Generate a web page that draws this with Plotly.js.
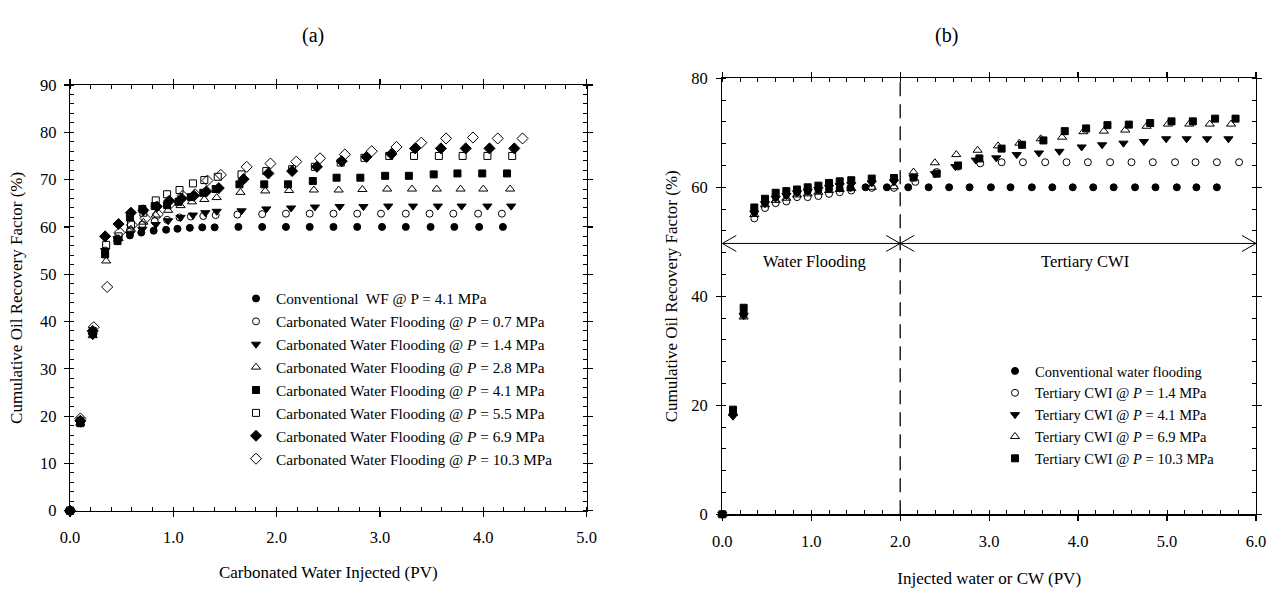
<!DOCTYPE html>
<html>
<head>
<meta charset="utf-8">
<script src="https://cdn.plot.ly/plotly-3.0.1.min.js"></script>
<style>
  html, body { margin: 0; padding: 0; background: #ffffff; }
  #chart { width: 1275px; height: 590px; }
</style>
</head>
<body>
<div id="chart"></div>
<script>
// ---------------- DATA : panel (a) ----------------
const panelATitle = '(a)';
const panelAXTitle = 'Carbonated Water Injected (PV)';
const panelAYTitle = 'Cumulative Oil Recovery Factor (%)';
const seriesANames = [
  'Conventional\u00a0 WF @ P = 4.1 MPa',
  'Carbonated Water Flooding @ <i>P</i> = 0.7 MPa',
  'Carbonated Water Flooding @ <i>P</i> = 1.4 MPa',
  'Carbonated Water Flooding @ <i>P</i> = 2.8 MPa',
  'Carbonated Water Flooding @ <i>P</i> = 4.1 MPa',
  'Carbonated Water Flooding @ <i>P</i> = 5.5 MPa',
  'Carbonated Water Flooding @ <i>P</i> = 6.9 MPa',
  'Carbonated Water Flooding @ <i>P</i> = 10.3 MPa'
];
const a_wf_x   = [0, 0.10, 0.22, 0.34, 0.46, 0.58, 0.69, 0.81, 0.93, 1.04, 1.16, 1.28, 1.40, 1.63, 1.86, 2.09, 2.32, 2.55, 2.78, 3.02, 3.25, 3.49, 3.72, 3.96, 4.19];
const a_wf_y   = [0, 18.5, 37.3, 54.5, 57.0, 58.2, 58.8, 59.2, 59.4, 59.6, 59.8, 59.9, 59.9, 60.0, 60.0, 60.0, 60.0, 60.0, 60.0, 60.0, 60.0, 60.0, 60.0, 60.0, 60.0];
const a_p07_x  = [0, 0.10, 0.22, 0.34, 0.46, 0.58, 0.70, 0.82, 0.94, 1.06, 1.17, 1.29, 1.41, 1.62, 1.86, 2.09, 2.32, 2.55, 2.78, 3.01, 3.25, 3.48, 3.71, 3.95, 4.18];
const a_p07_y  = [0, 19.0, 37.5, 55.0, 57.5, 59.3, 60.5, 61.2, 61.5, 62.0, 62.2, 62.3, 62.5, 62.6, 62.7, 62.8, 62.8, 62.8, 62.8, 62.8, 62.8, 62.8, 62.8, 62.8, 62.8];
const a_p14_x  = [0, 0.10, 0.22, 0.34, 0.46, 0.58, 0.70, 0.83, 0.95, 1.07, 1.19, 1.31, 1.42, 1.66, 1.90, 2.14, 2.37, 2.61, 2.84, 3.08, 3.32, 3.56, 3.79, 4.04, 4.27];
const a_p14_y  = [0, 18.5, 37.0, 55.0, 57.5, 58.5, 59.5, 60.5, 61.3, 62.0, 62.5, 63.0, 63.3, 63.4, 63.8, 64.0, 64.2, 64.3, 64.3, 64.4, 64.4, 64.4, 64.4, 64.4, 64.4];
const a_p28_x  = [0, 0.10, 0.22, 0.35, 0.47, 0.59, 0.71, 0.83, 0.95, 1.07, 1.18, 1.30, 1.42, 1.65, 1.89, 2.12, 2.36, 2.60, 2.83, 3.07, 3.31, 3.55, 3.78, 4.00, 4.26];
const a_p28_y  = [0, 18.5, 37.0, 52.8, 57.5, 59.5, 61.0, 62.5, 63.5, 64.5, 65.3, 65.8, 66.2, 67.3, 67.6, 67.7, 67.8, 67.8, 67.9, 68.0, 68.0, 68.0, 68.0, 68.0, 68.0];
const a_p41_x  = [0, 0.10, 0.22, 0.34, 0.46, 0.58, 0.70, 0.82, 0.94, 1.05, 1.17, 1.29, 1.41, 1.64, 1.88, 2.11, 2.35, 2.58, 2.81, 3.05, 3.28, 3.52, 3.75, 3.99, 4.23];
const a_p41_y  = [0, 18.5, 37.5, 54.2, 57.0, 62.0, 63.8, 64.4, 64.6, 65.3, 66.3, 67.2, 68.0, 69.0, 69.0, 69.0, 69.7, 70.4, 70.4, 70.8, 70.8, 71.1, 71.3, 71.3, 71.3];
const a_p55_x  = [0, 0.10, 0.22, 0.35, 0.47, 0.59, 0.71, 0.83, 0.94, 1.06, 1.19, 1.30, 1.43, 1.66, 1.90, 2.15, 2.37, 2.62, 2.85, 3.09, 3.33, 3.57, 3.80, 4.04, 4.28];
const a_p55_y  = [0, 19.0, 38.0, 56.2, 58.0, 60.5, 63.0, 65.6, 66.9, 67.8, 69.2, 69.9, 70.6, 71.1, 71.8, 72.2, 72.7, 73.6, 74.6, 75.0, 75.0, 75.0, 75.0, 75.0, 75.0];
const a_p69_x  = [0, 0.10, 0.22, 0.34, 0.47, 0.59, 0.71, 0.84, 0.96, 1.08, 1.20, 1.32, 1.44, 1.68, 1.92, 2.15, 2.39, 2.63, 2.87, 3.11, 3.34, 3.59, 3.83, 4.06, 4.30];
const a_p69_y  = [0, 19.0, 38.0, 58.0, 60.6, 63.0, 63.5, 64.3, 65.5, 66.0, 66.6, 67.5, 68.2, 70.1, 71.3, 71.8, 72.7, 73.9, 74.8, 75.4, 76.6, 76.6, 76.6, 76.6, 76.6];
const a_p103_x = [0, 0.10, 0.23, 0.36, 0.48, 0.60, 0.73, 0.85, 0.97, 1.09, 1.21, 1.33, 1.46, 1.71, 1.94, 2.19, 2.42, 2.66, 2.92, 3.16, 3.40, 3.64, 3.90, 4.14, 4.38];
const a_p103_y = [0, 19.5, 38.8, 47.3, 58.8, 60.4, 61.8, 62.7, 64.9, 66.6, 66.9, 69.8, 71.0, 72.7, 73.4, 73.8, 74.5, 75.3, 76.0, 76.9, 77.8, 78.7, 78.9, 78.7, 78.7];

// ---------------- DATA : panel (b) ----------------
const panelBTitle = '(b)';
const panelBXTitle = 'Injected water or CW (PV)';
const panelBYTitle = 'Cumulative Oil Recovery Factor (%)';
const seriesBNames = [
  'Conventional water flooding',
  'Tertiary CWI @ <i>P</i> = 1.4 MPa',
  'Tertiary CWI @ <i>P</i> = 4.1 MPa',
  'Tertiary CWI @ <i>P</i> = 6.9 MPa',
  'Tertiary CWI @ <i>P</i> = 10.3 MPa'
];
const b_wf_x   = [0, 0.12, 0.24, 0.36, 0.48, 0.60, 0.72, 0.84, 0.96, 1.08, 1.20, 1.32, 1.44, 1.61, 1.85, 2.09, 2.32, 2.55, 2.78, 3.02, 3.24, 3.48, 3.71, 3.94, 4.17, 4.40, 4.64, 4.87, 5.11, 5.33, 5.56];
const b_wf_y   = [0, 18.8, 37.0, 55.5, 57.2, 58.2, 58.7, 59.1, 59.3, 59.5, 59.7, 59.8, 59.9, 60.0, 60.0, 60.0, 60.0, 60.0, 60.0, 60.0, 60.0, 60.0, 60.0, 60.0, 60.0, 60.0, 60.0, 60.0, 60.0, 60.0, 60.0];
const b_p14_x  = [0, 0.12, 0.24, 0.36, 0.48, 0.60, 0.72, 0.84, 0.96, 1.08, 1.20, 1.32, 1.45, 1.68, 1.93, 2.17, 2.41, 2.65, 2.90, 3.14, 3.38, 3.63, 3.87, 4.11, 4.36, 4.60, 4.84, 5.09, 5.32, 5.56, 5.81];
const b_p14_y  = [0, 18.3, 36.5, 54.3, 56.2, 57.1, 57.4, 58.2, 58.2, 58.4, 58.8, 59.1, 59.4, 59.9, 59.9, 61.0, 62.8, 63.8, 64.4, 64.6, 64.6, 64.6, 64.6, 64.6, 64.6, 64.6, 64.6, 64.6, 64.6, 64.6, 64.6];
const b_p41_x  = [0, 0.12, 0.24, 0.36, 0.48, 0.60, 0.72, 0.84, 0.96, 1.08, 1.20, 1.32, 1.45, 1.68, 1.93, 2.15, 2.39, 2.62, 2.85, 3.08, 3.31, 3.56, 3.79, 4.04, 4.27, 4.51, 4.74, 4.99, 5.22, 5.45, 5.69];
const b_p41_y  = [0, 18.0, 36.5, 55.3, 57.0, 58.0, 58.5, 59.0, 59.3, 59.6, 60.0, 60.3, 60.5, 60.8, 61.0, 61.8, 62.5, 63.8, 65.0, 65.4, 66.0, 66.3, 66.6, 67.4, 67.8, 68.1, 68.4, 68.9, 68.9, 68.9, 68.9];
const b_p69_x  = [0, 0.12, 0.24, 0.36, 0.48, 0.60, 0.72, 0.84, 0.96, 1.08, 1.20, 1.32, 1.45, 1.68, 1.93, 2.15, 2.39, 2.63, 2.87, 3.10, 3.34, 3.58, 3.82, 4.06, 4.29, 4.53, 4.77, 5.01, 5.25, 5.48, 5.72];
const b_p69_y  = [0, 18.5, 36.2, 55.0, 56.8, 57.6, 58.0, 58.6, 58.8, 59.1, 59.4, 59.6, 59.8, 60.0, 60.1, 62.8, 64.5, 66.0, 66.8, 67.6, 68.1, 68.9, 69.2, 70.2, 70.3, 70.5, 71.2, 71.6, 71.6, 71.6, 71.6];
const b_p103_x = [0, 0.12, 0.24, 0.36, 0.48, 0.60, 0.72, 0.84, 0.96, 1.08, 1.20, 1.32, 1.45, 1.68, 1.93, 2.15, 2.41, 2.65, 2.89, 3.14, 3.37, 3.61, 3.85, 4.09, 4.33, 4.57, 4.81, 5.05, 5.29, 5.54, 5.77];
const b_p103_y = [0, 19.2, 37.9, 56.3, 57.9, 59.0, 59.3, 59.6, 60.0, 60.3, 60.8, 61.1, 61.3, 61.6, 61.7, 61.8, 62.5, 64.0, 65.3, 67.1, 67.8, 68.6, 70.3, 70.8, 71.4, 71.5, 71.8, 72.1, 72.1, 72.6, 72.6];

// phase annotation content for panel (b)
const phaseBounds = [0, 2.0, 6.0];
const phaseLabels = ['Water Flooding', 'Tertiary CWI'];
const phaseArrowLevel = 49.7;

// ---------------- STYLE ----------------
const W = 1275, H = 590;
const FONT = 'Liberation Serif, Times New Roman, serif';
const INK = '#000000';

const domA = { x: [70 / W, 586.6 / W], y: [1 - 510.7 / H, 1 - 85 / H] };
const domB = { x: [722.3 / W, 1256 / W], y: [1 - 514.3 / H, 1 - 78.3 / H] };

const symA = ['circle', 'circle-open', 'triangle-down', 'triangle-up-open', 'square', 'square-open', 'diamond', 'diamond-open'];
const sizeA = [7, 7, 8, 8, 7, 7, 8.5, 8.5];
const symB = ['circle', 'circle-open', 'triangle-down', 'triangle-up-open', 'square'];
const sizeB = [7, 7, 8, 8, 7];

const seriesA = [[a_wf_x, a_wf_y], [a_p07_x, a_p07_y], [a_p14_x, a_p14_y], [a_p28_x, a_p28_y],
                 [a_p41_x, a_p41_y], [a_p55_x, a_p55_y], [a_p69_x, a_p69_y], [a_p103_x, a_p103_y]];
const seriesB = [[b_wf_x, b_wf_y], [b_p14_x, b_p14_y], [b_p41_x, b_p41_y], [b_p69_x, b_p69_y], [b_p103_x, b_p103_y]];

const traces = [];
seriesA.forEach(function (s, i) {
  traces.push({
    type: 'scatter', mode: 'markers', x: s[0], y: s[1], name: seriesANames[i],
    xaxis: 'x', yaxis: 'y', legend: 'legend', cliponaxis: false,
    marker: { symbol: symA[i], size: sizeA[i], color: INK, line: { color: INK, width: 1 } }
  });
});
seriesB.forEach(function (s, i) {
  traces.push({
    type: 'scatter', mode: 'markers', x: s[0], y: s[1], name: seriesBNames[i],
    xaxis: 'x2', yaxis: 'y2', legend: 'legend2', cliponaxis: false,
    marker: { symbol: symB[i], size: sizeB[i], color: INK, line: { color: INK, width: 1 } }
  });
});

function axisBase(extra) {
  const base = {
    showline: true, linecolor: INK, linewidth: 1.3, mirror: 'allticks',
    ticks: 'outside', ticklen: 5, tickwidth: 1.2, tickcolor: INK,
    showgrid: false, zeroline: false, automargin: false, fixedrange: true,
    tickfont: { family: FONT, size: 16.5, color: INK }
  };
  return Object.assign(base, extra);
}
function minorTicks(step) {
  return { ticks: 'inside', ticklen: 4, tickwidth: 1, tickcolor: INK, dtick: step, showgrid: false };
}

// chevron arrowheads (pixel sizes converted through panel-b axis scales)
const bPlotW = (domB.x[1] - domB.x[0]) * W, bPlotH = (domB.y[1] - domB.y[0]) * H;
const chevDx = 14 * (6 / bPlotW), chevDy = 8 * (80 / bPlotH);
function chevron(xTip, dir) { // dir +1 points right, -1 points left
  const xa = xTip - dir * chevDx;
  return {
    type: 'path', xref: 'x2', yref: 'y2', line: { color: INK, width: 1 },
    path: 'M ' + xa + ',' + (phaseArrowLevel + chevDy) + ' L ' + xTip + ',' + phaseArrowLevel +
          ' L ' + xa + ',' + (phaseArrowLevel - chevDy)
  };
}

const shapes = [
  { type: 'line', xref: 'x2', yref: 'y2', x0: phaseBounds[1], x1: phaseBounds[1], y0: 0, y1: 80,
    line: { color: INK, width: 1.3, dash: '14px,8px' } },
  { type: 'line', xref: 'x2', yref: 'y2', x0: phaseBounds[0], x1: phaseBounds[2],
    y0: phaseArrowLevel, y1: phaseArrowLevel, line: { color: INK, width: 1 } },
  chevron(phaseBounds[0], -1), chevron(phaseBounds[1], 1),
  chevron(phaseBounds[1], -1), chevron(phaseBounds[2], 1)
];

const annotations = [
  { text: panelATitle, xref: 'paper', yref: 'paper', x: 300 / W, y: 1 - 22 / H, showarrow: false,
    font: { family: FONT, size: 20, color: INK } },
  { text: panelBTitle, xref: 'paper', yref: 'paper', x: 960 / W, y: 1 - 22 / H, showarrow: false,
    font: { family: FONT, size: 20, color: INK } }
];
phaseLabels.forEach(function (lab, i) {
  annotations.push({
    text: lab, xref: 'x2', yref: 'y2', x: (phaseBounds[i] + phaseBounds[i + 1]) / 2 + 0.04 * (i + 1),
    y: phaseArrowLevel, yshift: -18, showarrow: false, font: { family: FONT, size: 16.5, color: INK }
  });
});

const layout = {
  width: W, height: H, margin: { l: 0, r: 0, t: 0, b: 0 },
  paper_bgcolor: '#ffffff', plot_bgcolor: '#ffffff',
  font: { family: FONT, color: INK },
  xaxis: axisBase({ domain: domA.x, anchor: 'y', range: [0, 5], tick0: 0, dtick: 1, tickformat: '.1f',
    minor: minorTicks(0.2), ticklabelstandoff: 6,
    title: { text: panelAXTitle, standoff: 20, font: { family: FONT, size: 17, color: INK } } }),
  yaxis: axisBase({ domain: domA.y, anchor: 'x', range: [0, 90], tick0: 0, dtick: 10,
    minor: minorTicks(2), ticklabelstandoff: 4,
    title: { text: panelAYTitle, standoff: 13, font: { family: FONT, size: 17, color: INK } } }),
  xaxis2: axisBase({ domain: domB.x, anchor: 'y2', range: [0, 6], tick0: 0, dtick: 1, tickformat: '.1f',
    minor: minorTicks(0.2), ticklabelstandoff: 7,
    title: { text: panelBXTitle, standoff: 21, font: { family: FONT, size: 17, color: INK } } }),
  yaxis2: axisBase({ domain: domB.y, anchor: 'x2', range: [0, 80], tick0: 0, dtick: 20,
    minor: minorTicks(4), ticklabelstandoff: 5,
    title: { text: panelBYTitle, standoff: 9, font: { family: FONT, size: 17, color: INK } } }),
  legend: { x: 236 / W, y: 1 - 282 / H, xanchor: 'left', yanchor: 'top', bgcolor: 'rgba(0,0,0,0)',
    borderwidth: 0, font: { family: FONT, size: 15.3, color: INK }, itemclick: false, itemdoubleclick: false },
  legend2: { x: 995 / W, y: 1 - 355 / H, xanchor: 'left', yanchor: 'top', bgcolor: 'rgba(0,0,0,0)',
    borderwidth: 0, font: { family: FONT, size: 14.5, color: INK }, itemclick: false, itemdoubleclick: false },
  shapes: shapes,
  annotations: annotations
};

Plotly.newPlot('chart', traces, layout, { staticPlot: true, displayModeBar: false });
</script>
</body>
</html>
